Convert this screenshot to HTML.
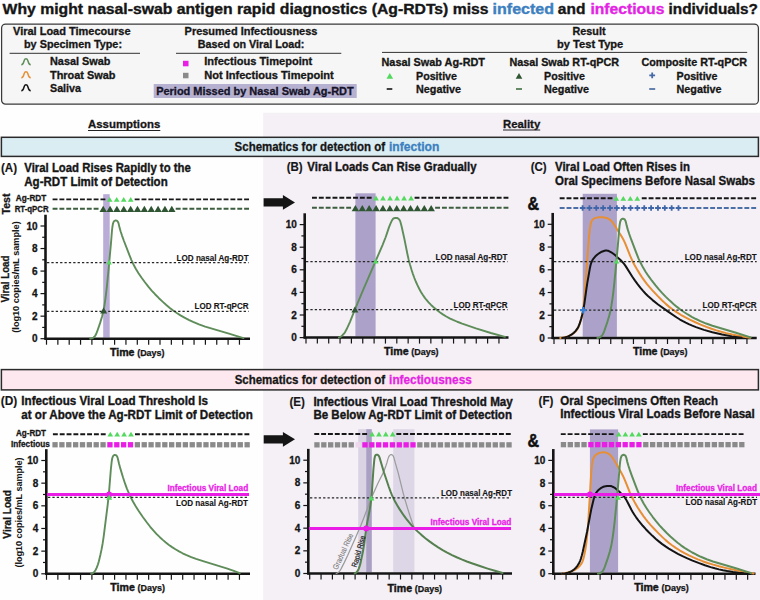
<!DOCTYPE html><html><head><meta charset="utf-8"><style>html,body{margin:0;padding:0;background:#fefefe;width:760px;height:600px;overflow:hidden}</style></head><body><svg width="760" height="600" viewBox="0 0 760 600" style="display:block">
<g font-family='"Liberation Sans", sans-serif'>
<rect width="760" height="600" fill="#fefefe"/>
<rect x="263.2" y="112.8" width="497" height="487.2" fill="#f4f0f6"/>
<text x="2.6" y="13.5" font-size="14.4" font-weight="bold" fill="#161616" stroke="#161616" stroke-width="0.35" textLength="486" lengthAdjust="spacingAndGlyphs">Why might nasal-swab antigen rapid diagnostics (Ag-RDTs) miss</text>
<text x="492.6" y="13.5" font-size="14.4" font-weight="bold" fill="#3d80c0" stroke="#3d80c0" stroke-width="0.35" textLength="61.5" lengthAdjust="spacingAndGlyphs">infected</text>
<text x="557.8" y="13.5" font-size="14.4" font-weight="bold" fill="#161616" stroke="#161616" stroke-width="0.35" textLength="27.6" lengthAdjust="spacingAndGlyphs">and</text>
<text x="590.4" y="13.5" font-size="14.4" font-weight="bold" fill="#e424e4" stroke="#e424e4" stroke-width="0.35" textLength="74" lengthAdjust="spacingAndGlyphs">infectious</text>
<text x="668.6" y="13.5" font-size="14.4" font-weight="bold" fill="#161616" stroke="#161616" stroke-width="0.35" textLength="89.4" lengthAdjust="spacingAndGlyphs">individuals?</text>
<rect x="1.6" y="24" width="756.8" height="80.2" rx="4" fill="#f6f6f6" stroke="#3a3a3a" stroke-width="1.25"/>
<text x="13" y="35.3" font-size="10.4" font-weight="bold" fill="#161616" stroke="#161616" stroke-width="0.3" textLength="117.5" lengthAdjust="spacingAndGlyphs">Viral Load Timecourse</text>
<text x="24" y="48.2" font-size="10.4" font-weight="bold" fill="#161616" stroke="#161616" stroke-width="0.3" textLength="98" lengthAdjust="spacingAndGlyphs">by Specimen Type:</text>
<line x1="9.6" y1="53.3" x2="140" y2="53.3" stroke="#333" stroke-width="1"/>
<path d="M21.3,64.7 C23.1,64.7 23.4,63.7 23.9,61.400000000000006 L24.5,59.800000000000004 C24.9,58.300000000000004 27.1,58.300000000000004 27.5,59.800000000000004 L28.1,61.400000000000006 C28.6,63.7 28.9,64.7 30.7,64.7" fill="none" stroke="#5f8d5a" stroke-width="1.5"/>
<path d="M21.3,77.7 C23.1,77.7 23.4,76.7 23.9,74.4 L24.5,72.80000000000001 C24.9,71.30000000000001 27.1,71.30000000000001 27.5,72.80000000000001 L28.1,74.4 C28.6,76.7 28.9,77.7 30.7,77.7" fill="none" stroke="#e68f35" stroke-width="1.5"/>
<path d="M21.3,90.7 C23.1,90.7 23.4,89.7 23.9,87.4 L24.5,85.80000000000001 C24.9,84.30000000000001 27.1,84.30000000000001 27.5,85.80000000000001 L28.1,87.4 C28.6,89.7 28.9,90.7 30.7,90.7" fill="none" stroke="#141414" stroke-width="1.5"/>
<text x="50" y="65.3" font-size="10.4" font-weight="bold" fill="#161616" stroke="#161616" stroke-width="0.3" textLength="60.5" lengthAdjust="spacingAndGlyphs">Nasal Swab</text>
<text x="50" y="78.5" font-size="10.4" font-weight="bold" fill="#161616" stroke="#161616" stroke-width="0.3" textLength="65.5" lengthAdjust="spacingAndGlyphs">Throat Swab</text>
<text x="50" y="91.5" font-size="10.4" font-weight="bold" fill="#161616" stroke="#161616" stroke-width="0.3" textLength="31" lengthAdjust="spacingAndGlyphs">Saliva</text>
<text x="184.6" y="35.3" font-size="10.4" font-weight="bold" fill="#161616" stroke="#161616" stroke-width="0.3" textLength="132.8" lengthAdjust="spacingAndGlyphs">Presumed Infectiousness</text>
<text x="197.8" y="48.3" font-size="10.4" font-weight="bold" fill="#161616" stroke="#161616" stroke-width="0.3" textLength="106.6" lengthAdjust="spacingAndGlyphs">Based on Viral Load:</text>
<line x1="176" y1="53.3" x2="341.3" y2="53.3" stroke="#333" stroke-width="1"/>
<rect x="183.00" y="60.80" width="5.5" height="5.5" fill="#e91de6"/>
<rect x="183.00" y="72.80" width="5.5" height="5.5" fill="#8a8a8a"/>
<text x="204.2" y="65.3" font-size="10.4" font-weight="bold" fill="#161616" stroke="#161616" stroke-width="0.3" textLength="108" lengthAdjust="spacingAndGlyphs">Infectious Timepoint</text>
<text x="204.2" y="78.7" font-size="10.4" font-weight="bold" fill="#161616" stroke="#161616" stroke-width="0.3" textLength="129.5" lengthAdjust="spacingAndGlyphs">Not Infectious Timepoint</text>
<rect x="153.7" y="84" width="203" height="14" fill="#b6b1d1"/>
<text x="156.2" y="94.5" font-size="10.4" font-weight="bold" fill="#16142a" stroke="#16142a" stroke-width="0.3" textLength="197.5" lengthAdjust="spacingAndGlyphs">Period Missed by Nasal Swab Ag-RDT</text>
<text x="572.5" y="35.3" font-size="10.4" font-weight="bold" fill="#161616" stroke="#161616" stroke-width="0.3" textLength="33" lengthAdjust="spacingAndGlyphs">Result</text>
<text x="557" y="48.4" font-size="10.4" font-weight="bold" fill="#161616" stroke="#161616" stroke-width="0.3" textLength="66.3" lengthAdjust="spacingAndGlyphs">by Test Type</text>
<line x1="382" y1="52.4" x2="747.2" y2="52.4" stroke="#333" stroke-width="1"/>
<text x="381.5" y="66.4" font-size="10.4" font-weight="bold" fill="#161616" stroke="#161616" stroke-width="0.3" textLength="103.5" lengthAdjust="spacingAndGlyphs">Nasal Swab Ag-RDT</text>
<text x="509.4" y="66.4" font-size="10.4" font-weight="bold" fill="#161616" stroke="#161616" stroke-width="0.3" textLength="109.7" lengthAdjust="spacingAndGlyphs">Nasal Swab RT-qPCR</text>
<text x="641.4" y="66.4" font-size="10.4" font-weight="bold" fill="#161616" stroke="#161616" stroke-width="0.3" textLength="105.6" lengthAdjust="spacingAndGlyphs">Composite RT-qPCR</text>
<path d="M386.50,78.70 L393.10,78.70 L389.80,73.10Z" fill="#52d95e"/>
<line x1="386.7" y1="89" x2="392.3" y2="89" stroke="#151515" stroke-width="1.6"/>
<path d="M515.70,78.70 L522.30,78.70 L519.00,73.10Z" fill="#2f5532"/>
<line x1="516" y1="89" x2="522" y2="89" stroke="#3f6e42" stroke-width="1.6"/>
<path d="M649.30,75.30 H655.10 M652.20,72.40 V78.20" stroke="#4568a6" stroke-width="1.8"/>
<line x1="649.2" y1="89" x2="655.2" y2="89" stroke="#5575a8" stroke-width="1.8"/>
<text x="416" y="79.5" font-size="10.4" font-weight="bold" fill="#161616" stroke="#161616" stroke-width="0.3" textLength="41" lengthAdjust="spacingAndGlyphs">Positive</text>
<text x="416" y="92.5" font-size="10.4" font-weight="bold" fill="#161616" stroke="#161616" stroke-width="0.3" textLength="45" lengthAdjust="spacingAndGlyphs">Negative</text>
<text x="544" y="79.5" font-size="10.4" font-weight="bold" fill="#161616" stroke="#161616" stroke-width="0.3" textLength="41" lengthAdjust="spacingAndGlyphs">Positive</text>
<text x="544" y="92.5" font-size="10.4" font-weight="bold" fill="#161616" stroke="#161616" stroke-width="0.3" textLength="45" lengthAdjust="spacingAndGlyphs">Negative</text>
<text x="676.5" y="79.5" font-size="10.4" font-weight="bold" fill="#161616" stroke="#161616" stroke-width="0.3" textLength="41" lengthAdjust="spacingAndGlyphs">Positive</text>
<text x="676.5" y="92.5" font-size="10.4" font-weight="bold" fill="#161616" stroke="#161616" stroke-width="0.3" textLength="45" lengthAdjust="spacingAndGlyphs">Negative</text>
<text x="88" y="128.2" font-size="11" font-weight="bold" fill="#161616" stroke="#161616" stroke-width="0.3" textLength="72.3" lengthAdjust="spacingAndGlyphs">Assumptions</text>
<line x1="88" y1="130.5" x2="160.3" y2="130.5" stroke="#222" stroke-width="1"/>
<text x="503" y="128.1" font-size="11" font-weight="bold" fill="#161616" stroke="#161616" stroke-width="0.3" textLength="37.2" lengthAdjust="spacingAndGlyphs">Reality</text>
<line x1="503" y1="130" x2="540.2" y2="130" stroke="#222" stroke-width="1"/>
<rect x="1.4" y="137.3" width="757" height="19.1" fill="#daedf3" stroke="#2a2a2a" stroke-width="1.5"/>
<text x="234.6" y="151.1" font-size="12.3" font-weight="bold" fill="#161616" stroke="#161616" stroke-width="0.3" textLength="150.5" lengthAdjust="spacingAndGlyphs">Schematics for detection of</text>
<text x="389" y="151.1" font-size="12.3" font-weight="bold" fill="#3d80c0" stroke="#3d80c0" stroke-width="0.3" textLength="50.4" lengthAdjust="spacingAndGlyphs">infection</text>
<rect x="1.4" y="369.6" width="757" height="20.3" fill="#fce8ee" stroke="#2a2a2a" stroke-width="1.5"/>
<text x="234.7" y="384.2" font-size="12.3" font-weight="bold" fill="#161616" stroke="#161616" stroke-width="0.3" textLength="150.5" lengthAdjust="spacingAndGlyphs">Schematics for detection of</text>
<text x="389.1" y="384.2" font-size="12.3" font-weight="bold" fill="#e424e4" stroke="#e424e4" stroke-width="0.3" textLength="82.7" lengthAdjust="spacingAndGlyphs">infectiousness</text>
<text x="1" y="172.0" font-size="11.9" font-weight="bold" fill="#161616" stroke="#161616" stroke-width="0.15" textLength="16.1" lengthAdjust="spacingAndGlyphs">(A)</text>
<text x="24.3" y="172.0" font-size="11.9" font-weight="bold" fill="#161616" stroke="#161616" stroke-width="0.35" textLength="166.5" lengthAdjust="spacingAndGlyphs">Viral Load Rises Rapidly to the</text>
<text x="24.3" y="185.79999999999998" font-size="11.9" font-weight="bold" fill="#161616" stroke="#161616" stroke-width="0.35" textLength="143.4" lengthAdjust="spacingAndGlyphs">Ag-RDT Limit of Detection</text>
<text x="286.7" y="171.2" font-size="11.9" font-weight="bold" fill="#161616" stroke="#161616" stroke-width="0.15" textLength="16" lengthAdjust="spacingAndGlyphs">(B)</text>
<text x="307.3" y="171.2" font-size="11.9" font-weight="bold" fill="#161616" stroke="#161616" stroke-width="0.35" textLength="169.2" lengthAdjust="spacingAndGlyphs">Viral Loads Can Rise Gradually</text>
<text x="530.7" y="171.2" font-size="11.9" font-weight="bold" fill="#161616" stroke="#161616" stroke-width="0.15" textLength="16" lengthAdjust="spacingAndGlyphs">(C)</text>
<text x="555" y="171.2" font-size="11.9" font-weight="bold" fill="#161616" stroke="#161616" stroke-width="0.35" textLength="135" lengthAdjust="spacingAndGlyphs">Viral Load Often Rises in</text>
<text x="555" y="184.5" font-size="11.9" font-weight="bold" fill="#161616" stroke="#161616" stroke-width="0.35" textLength="200" lengthAdjust="spacingAndGlyphs">Oral Specimens Before Nasal Swabs</text>
<text x="0.7" y="404.9" font-size="11.9" font-weight="bold" fill="#161616" stroke="#161616" stroke-width="0.15" textLength="16.5" lengthAdjust="spacingAndGlyphs">(D)</text>
<text x="21.3" y="404.9" font-size="11.9" font-weight="bold" fill="#161616" stroke="#161616" stroke-width="0.35" textLength="186.7" lengthAdjust="spacingAndGlyphs">Infectious Viral Load Threshold Is</text>
<text x="21.3" y="418.59999999999997" font-size="11.9" font-weight="bold" fill="#161616" stroke="#161616" stroke-width="0.35" textLength="231.5" lengthAdjust="spacingAndGlyphs">at or Above the Ag-RDT Limit of Detection</text>
<text x="289.5" y="405.7" font-size="11.9" font-weight="bold" fill="#161616" stroke="#161616" stroke-width="0.15" textLength="15.5" lengthAdjust="spacingAndGlyphs">(E)</text>
<text x="313.4" y="405.7" font-size="11.9" font-weight="bold" fill="#161616" stroke="#161616" stroke-width="0.35" textLength="199.4" lengthAdjust="spacingAndGlyphs">Infectious Viral Load Threshold May</text>
<text x="313.4" y="418.59999999999997" font-size="11.9" font-weight="bold" fill="#161616" stroke="#161616" stroke-width="0.35" textLength="198.6" lengthAdjust="spacingAndGlyphs">Be Below Ag-RDT Limit of Detection</text>
<text x="538.6" y="404.8" font-size="11.9" font-weight="bold" fill="#161616" stroke="#161616" stroke-width="0.15" textLength="14.8" lengthAdjust="spacingAndGlyphs">(F)</text>
<text x="560.3" y="404.8" font-size="11.9" font-weight="bold" fill="#161616" stroke="#161616" stroke-width="0.35" textLength="157.7" lengthAdjust="spacingAndGlyphs">Oral Specimens Often Reach</text>
<text x="560.3" y="418.2" font-size="11.9" font-weight="bold" fill="#161616" stroke="#161616" stroke-width="0.35" textLength="194.5" lengthAdjust="spacingAndGlyphs">Infectious Viral Loads Before Nasal</text>
<rect x="103.2" y="194.2" width="6.5" height="143.30" fill="#b9acd6"/>
<text x="176.6" y="260.5" font-size="8.2" font-weight="bold" fill="#161616" stroke="#161616" stroke-width="0.12" textLength="72" lengthAdjust="spacingAndGlyphs">LOD nasal Ag-RDT</text>
<text x="194.6" y="309.2" font-size="8.2" font-weight="bold" fill="#161616" stroke="#161616" stroke-width="0.12" textLength="54" lengthAdjust="spacingAndGlyphs">LOD RT-qPCR</text>
<line x1="45.5" y1="214.73" x2="45.5" y2="339.7" stroke="#151515" stroke-width="2.6"/>
<line x1="44.5" y1="338.7" x2="250" y2="338.7" stroke="#151515" stroke-width="2.5"/>
<line x1="40.5" y1="338.70" x2="45.5" y2="338.70" stroke="#151515" stroke-width="1.2"/>
<text x="37.6" y="342.20" font-size="10" font-weight="bold" fill="#151515" stroke="#151515" stroke-width="0.3" text-anchor="end">0</text>
<line x1="42.2" y1="327.43" x2="45.5" y2="327.43" stroke="#151515" stroke-width="1.2"/>
<line x1="40.5" y1="316.16" x2="45.5" y2="316.16" stroke="#151515" stroke-width="1.2"/>
<text x="37.6" y="319.66" font-size="10" font-weight="bold" fill="#151515" stroke="#151515" stroke-width="0.3" text-anchor="end">2</text>
<line x1="42.2" y1="304.89" x2="45.5" y2="304.89" stroke="#151515" stroke-width="1.2"/>
<line x1="40.5" y1="293.62" x2="45.5" y2="293.62" stroke="#151515" stroke-width="1.2"/>
<text x="37.6" y="297.12" font-size="10" font-weight="bold" fill="#151515" stroke="#151515" stroke-width="0.3" text-anchor="end">4</text>
<line x1="42.2" y1="282.35" x2="45.5" y2="282.35" stroke="#151515" stroke-width="1.2"/>
<line x1="40.5" y1="271.08" x2="45.5" y2="271.08" stroke="#151515" stroke-width="1.2"/>
<text x="37.6" y="274.58" font-size="10" font-weight="bold" fill="#151515" stroke="#151515" stroke-width="0.3" text-anchor="end">6</text>
<line x1="42.2" y1="259.81" x2="45.5" y2="259.81" stroke="#151515" stroke-width="1.2"/>
<line x1="40.5" y1="248.54" x2="45.5" y2="248.54" stroke="#151515" stroke-width="1.2"/>
<text x="37.6" y="252.04" font-size="10" font-weight="bold" fill="#151515" stroke="#151515" stroke-width="0.3" text-anchor="end">8</text>
<line x1="42.2" y1="237.27" x2="45.5" y2="237.27" stroke="#151515" stroke-width="1.2"/>
<line x1="40.5" y1="226.00" x2="45.5" y2="226.00" stroke="#151515" stroke-width="1.2"/>
<text x="37.6" y="229.50" font-size="10" font-weight="bold" fill="#151515" stroke="#151515" stroke-width="0.3" text-anchor="end">10</text>
<line x1="46.50" y1="338.7" x2="46.50" y2="344.7" stroke="#151515" stroke-width="1.2"/>
<line x1="57.85" y1="338.7" x2="57.85" y2="344.7" stroke="#151515" stroke-width="1.2"/>
<line x1="69.20" y1="338.7" x2="69.20" y2="344.7" stroke="#151515" stroke-width="1.2"/>
<line x1="80.55" y1="338.7" x2="80.55" y2="344.7" stroke="#151515" stroke-width="1.2"/>
<line x1="91.90" y1="338.7" x2="91.90" y2="344.7" stroke="#151515" stroke-width="1.2"/>
<line x1="103.25" y1="338.7" x2="103.25" y2="344.7" stroke="#151515" stroke-width="1.2"/>
<line x1="114.60" y1="338.7" x2="114.60" y2="344.7" stroke="#151515" stroke-width="1.2"/>
<line x1="125.95" y1="338.7" x2="125.95" y2="344.7" stroke="#151515" stroke-width="1.2"/>
<line x1="137.30" y1="338.7" x2="137.30" y2="344.7" stroke="#151515" stroke-width="1.2"/>
<line x1="148.65" y1="338.7" x2="148.65" y2="344.7" stroke="#151515" stroke-width="1.2"/>
<line x1="160.00" y1="338.7" x2="160.00" y2="344.7" stroke="#151515" stroke-width="1.2"/>
<line x1="171.35" y1="338.7" x2="171.35" y2="344.7" stroke="#151515" stroke-width="1.2"/>
<line x1="182.70" y1="338.7" x2="182.70" y2="344.7" stroke="#151515" stroke-width="1.2"/>
<line x1="194.05" y1="338.7" x2="194.05" y2="344.7" stroke="#151515" stroke-width="1.2"/>
<line x1="205.40" y1="338.7" x2="205.40" y2="344.7" stroke="#151515" stroke-width="1.2"/>
<line x1="216.75" y1="338.7" x2="216.75" y2="344.7" stroke="#151515" stroke-width="1.2"/>
<line x1="228.10" y1="338.7" x2="228.10" y2="344.7" stroke="#151515" stroke-width="1.2"/>
<line x1="239.45" y1="338.7" x2="239.45" y2="344.7" stroke="#151515" stroke-width="1.2"/>
<text x="15.8" y="201.4" font-size="8.8" font-weight="bold" fill="#161616" stroke="#161616" stroke-width="0.3" textLength="30.5" lengthAdjust="spacingAndGlyphs">Ag-RDT</text>
<text x="14.7" y="212" font-size="8.8" font-weight="bold" fill="#161616" stroke="#161616" stroke-width="0.3" textLength="34" lengthAdjust="spacingAndGlyphs">RT-qPCR</text>
<text x="9.5" y="204" font-size="10.5" font-weight="bold" fill="#161616" stroke="#161616" stroke-width="0.3" text-anchor="middle" textLength="21" lengthAdjust="spacingAndGlyphs" transform="rotate(-90 9.5 204)">Test</text>
<line x1="52.60" y1="199.4" x2="106.50" y2="199.4" stroke="#161616" stroke-width="1.9" stroke-dasharray="4.9 1.94" stroke-dashoffset="0.00"/>
<line x1="134.20" y1="199.4" x2="250.00" y2="199.4" stroke="#161616" stroke-width="1.9" stroke-dasharray="4.9 1.94" stroke-dashoffset="6.36"/>
<line x1="52.60" y1="208.7" x2="100.00" y2="208.7" stroke="#3d5e3f" stroke-width="1.9" stroke-dasharray="4.9 1.94" stroke-dashoffset="0.00"/>
<line x1="175.20" y1="208.7" x2="250.00" y2="208.7" stroke="#3d5e3f" stroke-width="1.9" stroke-dasharray="4.9 1.94" stroke-dashoffset="6.32"/>
<path d="M106.85,201.80 L112.55,201.80 L109.70,196.90Z" fill="#52d95e"/>
<path d="M113.85,201.80 L119.55,201.80 L116.70,196.90Z" fill="#52d95e"/>
<path d="M120.85,201.80 L126.55,201.80 L123.70,196.90Z" fill="#52d95e"/>
<path d="M127.85,201.80 L133.55,201.80 L130.70,196.90Z" fill="#52d95e"/>
<path d="M99.50,212.10 L106.90,212.10 L103.20,205.80Z" fill="#2f5532"/>
<path d="M106.36,212.10 L113.76,212.10 L110.06,205.80Z" fill="#2f5532"/>
<path d="M113.22,212.10 L120.62,212.10 L116.92,205.80Z" fill="#2f5532"/>
<path d="M120.08,212.10 L127.48,212.10 L123.78,205.80Z" fill="#2f5532"/>
<path d="M126.94,212.10 L134.34,212.10 L130.64,205.80Z" fill="#2f5532"/>
<path d="M133.80,212.10 L141.20,212.10 L137.50,205.80Z" fill="#2f5532"/>
<path d="M140.66,212.10 L148.06,212.10 L144.36,205.80Z" fill="#2f5532"/>
<path d="M147.52,212.10 L154.92,212.10 L151.22,205.80Z" fill="#2f5532"/>
<path d="M154.38,212.10 L161.78,212.10 L158.08,205.80Z" fill="#2f5532"/>
<path d="M161.24,212.10 L168.64,212.10 L164.94,205.80Z" fill="#2f5532"/>
<path d="M168.10,212.10 L175.50,212.10 L171.80,205.80Z" fill="#2f5532"/>
<text x="9.4" y="279" font-size="10.4" font-weight="bold" fill="#161616" stroke="#161616" stroke-width="0.3" text-anchor="middle" textLength="47" lengthAdjust="spacingAndGlyphs" transform="rotate(-90 9.4 279)">Viral Load</text>
<text x="19.3" y="277" font-size="9.4" font-weight="bold" fill="#161616" stroke="#161616" stroke-width="0.05" text-anchor="middle" textLength="111.4" lengthAdjust="spacingAndGlyphs" transform="rotate(-90 19.3 277)">(log10 copies/mL sample)</text>
<text x="109.9" y="355.5" font-size="10.6" font-weight="bold" fill="#151515" stroke="#151515" stroke-width="0.4" textLength="24.6" lengthAdjust="spacingAndGlyphs">Time</text>
<text x="137.2" y="355.5" font-size="8.2" font-weight="bold" fill="#151515" stroke="#151515" stroke-width="0.25" textLength="27.3" lengthAdjust="spacingAndGlyphs">(Days)</text>
<path d="M90.20,338.68 L91.75,338.32 L92.85,337.85 L93.53,337.45 L94.29,336.80 L94.95,336.05 L96.02,334.37 L96.99,331.96 L100.14,322.89 L102.15,316.18 L103.30,311.53 L104.20,306.81 L105.20,300.29 L106.01,294.14 L106.92,286.19 L108.37,271.67 L110.96,243.38 L111.95,231.02 L112.36,227.25 L112.92,223.90 L113.57,222.01 L113.99,221.35 L114.59,220.84 L115.30,220.51 L115.87,220.44 L116.62,220.62 L117.29,221.04 L117.80,221.62 L118.24,222.51 L118.63,223.65 L119.46,227.35 L120.57,231.20 L122.01,235.57 L123.97,241.03 L129.43,255.21 L131.33,259.83 L133.35,264.18 L135.91,268.94 L138.51,273.20 L141.43,277.50 L144.74,282.01 L148.33,286.56 L151.68,290.53 L155.04,294.23 L158.68,297.94 L162.59,301.66 L166.31,304.99 L169.84,307.93 L173.18,310.48 L176.78,312.99 L180.50,315.34 L184.48,317.63 L188.73,319.84 L193.07,321.90 L198.97,324.36 L205.19,326.55 L228.95,333.63 L243.44,338.11" fill="none" stroke="#5f8d5a" stroke-width="1.9" stroke-linejoin="round" stroke-linecap="round" />

<line x1="47" y1="262.7" x2="248.6" y2="262.7" stroke="#262626" stroke-width="1.3" stroke-dasharray="2.3 2.07"/>
<line x1="47" y1="311.3" x2="248.6" y2="311.3" stroke="#262626" stroke-width="1.3" stroke-dasharray="2.3 2.07"/>
<path d="M100.10,313.60 L107.10,313.60 L103.60,307.60Z" fill="#2f5532"/>
<path d="M106.40,264.50 L111.80,264.50 L109.10,259.70Z" fill="#52d95e"/>
<rect x="355.4" y="193.3" width="20.2" height="143.10" fill="#aca2c9"/>
<text x="435.5" y="259.5" font-size="8.2" font-weight="bold" fill="#161616" stroke="#161616" stroke-width="0.12" textLength="72" lengthAdjust="spacingAndGlyphs">LOD nasal Ag-RDT</text>
<text x="453.5" y="308.2" font-size="8.2" font-weight="bold" fill="#161616" stroke="#161616" stroke-width="0.12" textLength="54" lengthAdjust="spacingAndGlyphs">LOD RT-qPCR</text>
<line x1="304.7" y1="213.3" x2="304.7" y2="338.6" stroke="#151515" stroke-width="2.6"/>
<line x1="303.7" y1="337.6" x2="508.5" y2="337.6" stroke="#151515" stroke-width="2.5"/>
<line x1="299.7" y1="337.60" x2="304.7" y2="337.60" stroke="#151515" stroke-width="1.2"/>
<text x="296.8" y="341.10" font-size="10" font-weight="bold" fill="#151515" stroke="#151515" stroke-width="0.3" text-anchor="end">0</text>
<line x1="301.4" y1="326.30" x2="304.7" y2="326.30" stroke="#151515" stroke-width="1.2"/>
<line x1="299.7" y1="315.00" x2="304.7" y2="315.00" stroke="#151515" stroke-width="1.2"/>
<text x="296.8" y="318.50" font-size="10" font-weight="bold" fill="#151515" stroke="#151515" stroke-width="0.3" text-anchor="end">2</text>
<line x1="301.4" y1="303.70" x2="304.7" y2="303.70" stroke="#151515" stroke-width="1.2"/>
<line x1="299.7" y1="292.40" x2="304.7" y2="292.40" stroke="#151515" stroke-width="1.2"/>
<text x="296.8" y="295.90" font-size="10" font-weight="bold" fill="#151515" stroke="#151515" stroke-width="0.3" text-anchor="end">4</text>
<line x1="301.4" y1="281.10" x2="304.7" y2="281.10" stroke="#151515" stroke-width="1.2"/>
<line x1="299.7" y1="269.80" x2="304.7" y2="269.80" stroke="#151515" stroke-width="1.2"/>
<text x="296.8" y="273.30" font-size="10" font-weight="bold" fill="#151515" stroke="#151515" stroke-width="0.3" text-anchor="end">6</text>
<line x1="301.4" y1="258.50" x2="304.7" y2="258.50" stroke="#151515" stroke-width="1.2"/>
<line x1="299.7" y1="247.20" x2="304.7" y2="247.20" stroke="#151515" stroke-width="1.2"/>
<text x="296.8" y="250.70" font-size="10" font-weight="bold" fill="#151515" stroke="#151515" stroke-width="0.3" text-anchor="end">8</text>
<line x1="301.4" y1="235.90" x2="304.7" y2="235.90" stroke="#151515" stroke-width="1.2"/>
<line x1="299.7" y1="224.60" x2="304.7" y2="224.60" stroke="#151515" stroke-width="1.2"/>
<text x="296.8" y="228.10" font-size="10" font-weight="bold" fill="#151515" stroke="#151515" stroke-width="0.3" text-anchor="end">10</text>
<line x1="306.00" y1="337.6" x2="306.00" y2="343.6" stroke="#151515" stroke-width="1.2"/>
<line x1="317.35" y1="337.6" x2="317.35" y2="343.6" stroke="#151515" stroke-width="1.2"/>
<line x1="328.70" y1="337.6" x2="328.70" y2="343.6" stroke="#151515" stroke-width="1.2"/>
<line x1="340.05" y1="337.6" x2="340.05" y2="343.6" stroke="#151515" stroke-width="1.2"/>
<line x1="351.40" y1="337.6" x2="351.40" y2="343.6" stroke="#151515" stroke-width="1.2"/>
<line x1="362.75" y1="337.6" x2="362.75" y2="343.6" stroke="#151515" stroke-width="1.2"/>
<line x1="374.10" y1="337.6" x2="374.10" y2="343.6" stroke="#151515" stroke-width="1.2"/>
<line x1="385.45" y1="337.6" x2="385.45" y2="343.6" stroke="#151515" stroke-width="1.2"/>
<line x1="396.80" y1="337.6" x2="396.80" y2="343.6" stroke="#151515" stroke-width="1.2"/>
<line x1="408.15" y1="337.6" x2="408.15" y2="343.6" stroke="#151515" stroke-width="1.2"/>
<line x1="419.50" y1="337.6" x2="419.50" y2="343.6" stroke="#151515" stroke-width="1.2"/>
<line x1="430.85" y1="337.6" x2="430.85" y2="343.6" stroke="#151515" stroke-width="1.2"/>
<line x1="442.20" y1="337.6" x2="442.20" y2="343.6" stroke="#151515" stroke-width="1.2"/>
<line x1="453.55" y1="337.6" x2="453.55" y2="343.6" stroke="#151515" stroke-width="1.2"/>
<line x1="464.90" y1="337.6" x2="464.90" y2="343.6" stroke="#151515" stroke-width="1.2"/>
<line x1="476.25" y1="337.6" x2="476.25" y2="343.6" stroke="#151515" stroke-width="1.2"/>
<line x1="487.60" y1="337.6" x2="487.60" y2="343.6" stroke="#151515" stroke-width="1.2"/>
<line x1="498.95" y1="337.6" x2="498.95" y2="343.6" stroke="#151515" stroke-width="1.2"/>
<path d="M263.6,198.3 H282.9 V195.0 L295,202.4 L282.9,209.8 V206.5 H263.6Z" fill="#151515"/>
<line x1="312.00" y1="197.8" x2="372.60" y2="197.8" stroke="#161616" stroke-width="1.9" stroke-dasharray="4.9 1.94" stroke-dashoffset="0.00"/>
<line x1="414.40" y1="197.8" x2="509.30" y2="197.8" stroke="#161616" stroke-width="1.9" stroke-dasharray="4.9 1.94" stroke-dashoffset="6.64"/>
<line x1="312.00" y1="207.8" x2="352.00" y2="207.8" stroke="#3d5e3f" stroke-width="1.9" stroke-dasharray="4.9 1.94" stroke-dashoffset="0.00"/>
<line x1="434.60" y1="207.8" x2="509.30" y2="207.8" stroke="#3d5e3f" stroke-width="1.9" stroke-dasharray="4.9 1.94" stroke-dashoffset="6.32"/>
<path d="M373.15,200.40 L378.85,200.40 L376.00,195.50Z" fill="#52d95e"/>
<path d="M380.17,200.40 L385.87,200.40 L383.02,195.50Z" fill="#52d95e"/>
<path d="M387.19,200.40 L392.89,200.40 L390.04,195.50Z" fill="#52d95e"/>
<path d="M394.21,200.40 L399.91,200.40 L397.06,195.50Z" fill="#52d95e"/>
<path d="M401.23,200.40 L406.93,200.40 L404.08,195.50Z" fill="#52d95e"/>
<path d="M408.25,200.40 L413.95,200.40 L411.10,195.50Z" fill="#52d95e"/>
<path d="M351.70,211.20 L359.10,211.20 L355.40,204.90Z" fill="#2f5532"/>
<path d="M358.59,211.20 L365.99,211.20 L362.29,204.90Z" fill="#2f5532"/>
<path d="M365.48,211.20 L372.88,211.20 L369.18,204.90Z" fill="#2f5532"/>
<path d="M372.37,211.20 L379.77,211.20 L376.07,204.90Z" fill="#2f5532"/>
<path d="M379.26,211.20 L386.66,211.20 L382.96,204.90Z" fill="#2f5532"/>
<path d="M386.15,211.20 L393.55,211.20 L389.85,204.90Z" fill="#2f5532"/>
<path d="M393.04,211.20 L400.44,211.20 L396.74,204.90Z" fill="#2f5532"/>
<path d="M399.93,211.20 L407.33,211.20 L403.63,204.90Z" fill="#2f5532"/>
<path d="M406.82,211.20 L414.22,211.20 L410.52,204.90Z" fill="#2f5532"/>
<path d="M413.71,211.20 L421.11,211.20 L417.41,204.90Z" fill="#2f5532"/>
<path d="M420.60,211.20 L428.00,211.20 L424.30,204.90Z" fill="#2f5532"/>
<path d="M427.49,211.20 L434.89,211.20 L431.19,204.90Z" fill="#2f5532"/>
<text x="384.0" y="354.90000000000003" font-size="10.6" font-weight="bold" fill="#151515" stroke="#151515" stroke-width="0.4" textLength="24.6" lengthAdjust="spacingAndGlyphs">Time</text>
<text x="411.3" y="354.90000000000003" font-size="8.2" font-weight="bold" fill="#151515" stroke="#151515" stroke-width="0.25" textLength="27.3" lengthAdjust="spacingAndGlyphs">(Days)</text>
<path d="M338.89,337.56 L340.01,337.14 L341.02,336.50 L342.24,335.46 L343.64,334.03 L344.98,332.30 L346.58,329.30 L349.91,322.03 L354.78,309.97 L363.59,288.94 L382.54,245.06 L385.64,237.25 L388.87,227.58 L390.24,224.04 L391.94,220.42 L392.90,218.91 L393.35,218.54 L394.07,218.22 L395.23,217.95 L396.22,217.85 L397.00,217.94 L397.55,218.16 L398.38,218.70 L399.12,219.37 L399.89,220.52 L400.57,222.39 L401.57,226.27 L404.35,238.76 L407.45,254.25 L408.71,259.91 L409.97,264.55 L411.52,269.72 L412.95,274.09 L414.39,278.03 L415.89,281.74 L417.45,285.20 L419.22,288.79 L420.95,291.94 L422.73,294.82 L424.67,297.60 L426.49,299.97 L428.57,302.39 L431.07,304.96 L433.85,307.54 L436.92,310.09 L440.11,312.49 L443.24,314.63 L446.31,316.50 L449.64,318.30 L453.06,319.94 L457.28,321.75 L462.14,323.60 L475.96,328.30 L490.84,332.97 L504.89,336.88" fill="none" stroke="#5f8d5a" stroke-width="1.9" stroke-linejoin="round" stroke-linecap="round" />

<line x1="306" y1="261.6" x2="507.5" y2="261.6" stroke="#262626" stroke-width="1.3" stroke-dasharray="2.3 2.07"/>
<line x1="306" y1="309.7" x2="507.5" y2="309.7" stroke="#262626" stroke-width="1.3" stroke-dasharray="2.3 2.07"/>
<path d="M351.40,312.60 L358.40,312.60 L354.90,306.60Z" fill="#2f5532"/>
<path d="M373.10,263.40 L378.50,263.40 L375.80,258.60Z" fill="#52d95e"/>
<rect x="582.7" y="193.8" width="34.2" height="143.00" fill="#aca2c9"/>
<text x="684.7" y="259.7" font-size="8.2" font-weight="bold" fill="#161616" stroke="#161616" stroke-width="0.12" textLength="72" lengthAdjust="spacingAndGlyphs">LOD nasal Ag-RDT</text>
<text x="702.5" y="308.3" font-size="8.2" font-weight="bold" fill="#161616" stroke="#161616" stroke-width="0.12" textLength="54" lengthAdjust="spacingAndGlyphs">LOD RT-qPCR</text>
<line x1="552.7" y1="212.93" x2="552.7" y2="339" stroke="#151515" stroke-width="2.6"/>
<line x1="551.7" y1="338" x2="756.7" y2="338" stroke="#151515" stroke-width="2.5"/>
<line x1="547.7" y1="338.00" x2="552.7" y2="338.00" stroke="#151515" stroke-width="1.2"/>
<text x="544.8" y="341.50" font-size="10" font-weight="bold" fill="#151515" stroke="#151515" stroke-width="0.3" text-anchor="end">0</text>
<line x1="549.4000000000001" y1="326.63" x2="552.7" y2="326.63" stroke="#151515" stroke-width="1.2"/>
<line x1="547.7" y1="315.26" x2="552.7" y2="315.26" stroke="#151515" stroke-width="1.2"/>
<text x="544.8" y="318.76" font-size="10" font-weight="bold" fill="#151515" stroke="#151515" stroke-width="0.3" text-anchor="end">2</text>
<line x1="549.4000000000001" y1="303.89" x2="552.7" y2="303.89" stroke="#151515" stroke-width="1.2"/>
<line x1="547.7" y1="292.52" x2="552.7" y2="292.52" stroke="#151515" stroke-width="1.2"/>
<text x="544.8" y="296.02" font-size="10" font-weight="bold" fill="#151515" stroke="#151515" stroke-width="0.3" text-anchor="end">4</text>
<line x1="549.4000000000001" y1="281.15" x2="552.7" y2="281.15" stroke="#151515" stroke-width="1.2"/>
<line x1="547.7" y1="269.78" x2="552.7" y2="269.78" stroke="#151515" stroke-width="1.2"/>
<text x="544.8" y="273.28" font-size="10" font-weight="bold" fill="#151515" stroke="#151515" stroke-width="0.3" text-anchor="end">6</text>
<line x1="549.4000000000001" y1="258.41" x2="552.7" y2="258.41" stroke="#151515" stroke-width="1.2"/>
<line x1="547.7" y1="247.04" x2="552.7" y2="247.04" stroke="#151515" stroke-width="1.2"/>
<text x="544.8" y="250.54" font-size="10" font-weight="bold" fill="#151515" stroke="#151515" stroke-width="0.3" text-anchor="end">8</text>
<line x1="549.4000000000001" y1="235.67" x2="552.7" y2="235.67" stroke="#151515" stroke-width="1.2"/>
<line x1="547.7" y1="224.30" x2="552.7" y2="224.30" stroke="#151515" stroke-width="1.2"/>
<text x="544.8" y="227.80" font-size="10" font-weight="bold" fill="#151515" stroke="#151515" stroke-width="0.3" text-anchor="end">10</text>
<line x1="554.00" y1="338" x2="554.00" y2="344" stroke="#151515" stroke-width="1.2"/>
<line x1="565.35" y1="338" x2="565.35" y2="344" stroke="#151515" stroke-width="1.2"/>
<line x1="576.70" y1="338" x2="576.70" y2="344" stroke="#151515" stroke-width="1.2"/>
<line x1="588.05" y1="338" x2="588.05" y2="344" stroke="#151515" stroke-width="1.2"/>
<line x1="599.40" y1="338" x2="599.40" y2="344" stroke="#151515" stroke-width="1.2"/>
<line x1="610.75" y1="338" x2="610.75" y2="344" stroke="#151515" stroke-width="1.2"/>
<line x1="622.10" y1="338" x2="622.10" y2="344" stroke="#151515" stroke-width="1.2"/>
<line x1="633.45" y1="338" x2="633.45" y2="344" stroke="#151515" stroke-width="1.2"/>
<line x1="644.80" y1="338" x2="644.80" y2="344" stroke="#151515" stroke-width="1.2"/>
<line x1="656.15" y1="338" x2="656.15" y2="344" stroke="#151515" stroke-width="1.2"/>
<line x1="667.50" y1="338" x2="667.50" y2="344" stroke="#151515" stroke-width="1.2"/>
<line x1="678.85" y1="338" x2="678.85" y2="344" stroke="#151515" stroke-width="1.2"/>
<line x1="690.20" y1="338" x2="690.20" y2="344" stroke="#151515" stroke-width="1.2"/>
<line x1="701.55" y1="338" x2="701.55" y2="344" stroke="#151515" stroke-width="1.2"/>
<line x1="712.90" y1="338" x2="712.90" y2="344" stroke="#151515" stroke-width="1.2"/>
<line x1="724.25" y1="338" x2="724.25" y2="344" stroke="#151515" stroke-width="1.2"/>
<line x1="735.60" y1="338" x2="735.60" y2="344" stroke="#151515" stroke-width="1.2"/>
<line x1="746.95" y1="338" x2="746.95" y2="344" stroke="#151515" stroke-width="1.2"/>
<text x="527.6" y="209.5" font-size="17.5" font-weight="bold" fill="#111" stroke="#111" stroke-width="0.5" textLength="11.6" lengthAdjust="spacingAndGlyphs">&amp;</text>
<line x1="559.70" y1="198.3" x2="613.20" y2="198.3" stroke="#161616" stroke-width="1.9" stroke-dasharray="4.9 1.94" stroke-dashoffset="0.00"/>
<line x1="641.00" y1="198.3" x2="757.00" y2="198.3" stroke="#161616" stroke-width="1.9" stroke-dasharray="4.9 1.94" stroke-dashoffset="6.06"/>
<line x1="559.70" y1="208" x2="757.00" y2="208" stroke="#4b6fa6" stroke-width="1.9" stroke-dasharray="4.9 1.94" stroke-dashoffset="0.00"/>
<path d="M613.45,200.80 L619.15,200.80 L616.30,195.90Z" fill="#52d95e"/>
<path d="M620.45,200.80 L626.15,200.80 L623.30,195.90Z" fill="#52d95e"/>
<path d="M627.45,200.80 L633.15,200.80 L630.30,195.90Z" fill="#52d95e"/>
<path d="M634.45,200.80 L640.15,200.80 L637.30,195.90Z" fill="#52d95e"/>
<path d="M579.80,208.00 H585.40 M582.60,205.20 V210.80" stroke="#3f66a8" stroke-width="1.8"/>
<path d="M586.65,208.00 H592.25 M589.45,205.20 V210.80" stroke="#3f66a8" stroke-width="1.8"/>
<path d="M593.50,208.00 H599.10 M596.30,205.20 V210.80" stroke="#3f66a8" stroke-width="1.8"/>
<path d="M600.35,208.00 H605.95 M603.15,205.20 V210.80" stroke="#3f66a8" stroke-width="1.8"/>
<path d="M607.20,208.00 H612.80 M610.00,205.20 V210.80" stroke="#3f66a8" stroke-width="1.8"/>
<path d="M614.05,208.00 H619.65 M616.85,205.20 V210.80" stroke="#3f66a8" stroke-width="1.8"/>
<path d="M620.90,208.00 H626.50 M623.70,205.20 V210.80" stroke="#3f66a8" stroke-width="1.8"/>
<path d="M627.75,208.00 H633.35 M630.55,205.20 V210.80" stroke="#3f66a8" stroke-width="1.8"/>
<path d="M634.60,208.00 H640.20 M637.40,205.20 V210.80" stroke="#3f66a8" stroke-width="1.8"/>
<path d="M641.45,208.00 H647.05 M644.25,205.20 V210.80" stroke="#3f66a8" stroke-width="1.8"/>
<path d="M648.30,208.00 H653.90 M651.10,205.20 V210.80" stroke="#3f66a8" stroke-width="1.8"/>
<path d="M655.15,208.00 H660.75 M657.95,205.20 V210.80" stroke="#3f66a8" stroke-width="1.8"/>
<path d="M662.00,208.00 H667.60 M664.80,205.20 V210.80" stroke="#3f66a8" stroke-width="1.8"/>
<path d="M668.85,208.00 H674.45 M671.65,205.20 V210.80" stroke="#3f66a8" stroke-width="1.8"/>
<path d="M675.70,208.00 H681.30 M678.50,205.20 V210.80" stroke="#3f66a8" stroke-width="1.8"/>
<text x="632.9000000000001" y="354.90000000000003" font-size="10.6" font-weight="bold" fill="#151515" stroke="#151515" stroke-width="0.4" textLength="24.6" lengthAdjust="spacingAndGlyphs">Time</text>
<text x="660.2" y="354.90000000000003" font-size="8.2" font-weight="bold" fill="#151515" stroke="#151515" stroke-width="0.25" textLength="27.3" lengthAdjust="spacingAndGlyphs">(Days)</text>
<path d="M560.20,337.99 L561.79,337.83 L563.56,337.51 L567.81,336.37 L570.55,335.17 L573.26,333.48 L574.35,332.60 L575.49,331.48 L576.52,330.26 L577.45,328.96 L578.58,326.84 L579.85,323.48 L581.21,319.08 L582.14,315.40 L582.99,310.88 L583.56,306.72 L585.39,285.19 L588.75,239.52 L589.77,229.57 L590.66,224.04 L591.07,222.29 L591.52,221.19 L592.56,219.73 L593.74,218.66 L594.81,218.13 L596.74,217.63 L598.91,217.27 L601.10,217.15 L602.90,217.26 L605.26,217.66 L606.61,218.01 L608.10,218.61 L609.50,219.38 L610.46,220.09 L611.60,221.21 L613.02,222.89 L614.04,224.37 L616.72,228.83 L620.88,235.19 L623.09,238.99 L624.16,241.14 L625.39,243.88 L630.29,256.13 L632.65,261.42 L634.50,264.97 L636.67,268.79 L639.16,272.89 L641.88,277.09 L644.39,280.69 L646.80,283.88 L649.34,286.96 L652.39,290.40 L657.34,295.63 L662.13,300.45 L665.76,303.88 L669.25,306.87 L672.73,309.54 L676.52,312.13 L680.77,314.76 L685.47,317.41 L690.27,319.88 L695.33,322.27 L700.65,324.57 L706.41,326.86 L711.48,328.72 L716.41,330.37 L721.20,331.80 L726.22,333.12 L732.26,334.54 L738.32,335.80 L744.11,336.84 L750.09,337.75" fill="none" stroke="#e68f35" stroke-width="2" stroke-linejoin="round" stroke-linecap="round" />
<path d="M562.20,337.98 L564.75,337.51 L567.62,336.64 L569.62,335.72 L571.84,334.37 L573.86,332.74 L575.67,330.88 L577.13,328.97 L578.44,326.73 L579.57,323.96 L581.11,318.99 L582.29,314.55 L583.33,309.86 L584.39,303.55 L586.49,288.29 L587.36,282.56 L589.81,268.57 L590.58,265.06 L591.27,262.76 L592.25,260.57 L593.51,258.53 L595.17,256.54 L597.09,254.78 L599.83,252.78 L601.73,251.68 L604.58,250.74 L605.56,250.55 L606.55,250.48 L607.73,250.64 L608.85,251.06 L611.34,252.35 L612.67,253.22 L614.39,254.59 L618.45,258.15 L620.49,260.07 L622.31,261.93 L624.25,264.21 L625.68,266.14 L632.17,276.45 L635.00,280.57 L637.59,284.12 L640.29,287.59 L642.85,290.66 L645.41,293.46 L647.95,296.00 L652.57,300.12 L658.07,304.44 L668.15,311.65 L676.75,317.50 L679.97,319.52 L682.90,321.21 L685.73,322.70 L688.79,324.17 L692.28,325.67 L696.00,327.12 L703.94,329.85 L712.40,332.24 L722.14,334.50 L731.94,336.37 L741.44,337.76" fill="none" stroke="#141414" stroke-width="2" stroke-linejoin="round" stroke-linecap="round" />
<path d="M597.40,337.98 L598.95,337.62 L600.05,337.15 L600.73,336.74 L601.48,336.08 L602.14,335.33 L603.21,333.65 L604.24,331.05 L607.36,321.98 L609.35,315.26 L610.54,310.41 L611.42,305.69 L612.44,298.97 L613.24,292.82 L614.15,284.67 L615.57,270.34 L618.16,241.86 L619.16,229.30 L619.57,225.52 L620.12,222.17 L620.76,220.28 L621.19,219.62 L621.77,219.10 L622.48,218.77 L623.05,218.69 L623.80,218.87 L624.47,219.28 L624.99,219.87 L625.43,220.76 L625.87,222.08 L626.65,225.60 L627.80,229.64 L629.23,234.01 L631.17,239.47 L636.59,253.67 L638.47,258.30 L640.56,262.84 L643.10,267.60 L645.57,271.71 L648.58,276.19 L651.87,280.72 L655.56,285.44 L658.90,289.43 L662.24,293.14 L665.86,296.87 L669.76,300.61 L673.47,303.96 L676.98,306.91 L680.30,309.47 L683.90,312.00 L687.77,314.47 L691.75,316.77 L695.99,319.01 L700.32,321.07 L706.21,323.55 L712.43,325.75 L735.98,332.83 L750.64,337.41" fill="none" stroke="#5f8d5a" stroke-width="2" stroke-linejoin="round" stroke-linecap="round" />

<line x1="554" y1="261.7" x2="756.7" y2="261.7" stroke="#262626" stroke-width="1.3" stroke-dasharray="2.3 2.07"/>
<line x1="554" y1="310.2" x2="756.7" y2="310.2" stroke="#262626" stroke-width="1.3" stroke-dasharray="2.3 2.07"/>
<path d="M579.95,310.20 H586.45 M583.20,306.95 V313.45" stroke="#3a7fd0" stroke-width="2.2"/>
<path d="M613.90,263.50 L619.30,263.50 L616.60,258.70Z" fill="#52d95e"/>
<text x="167.4" y="490.5" font-size="8.6" font-weight="bold" fill="#e91de6" stroke="#e91de6" stroke-width="0.3" textLength="80.8" lengthAdjust="spacingAndGlyphs">Infectious Viral Load</text>
<text x="176" y="505.6" font-size="8.2" font-weight="bold" fill="#151515" stroke="#151515" stroke-width="0.12" textLength="72" lengthAdjust="spacingAndGlyphs">LOD nasal Ag-RDT</text>
<line x1="46.3" y1="449.16999999999996" x2="46.3" y2="574.8" stroke="#151515" stroke-width="2.6"/>
<line x1="45.3" y1="573.8" x2="250" y2="573.8" stroke="#151515" stroke-width="2.5"/>
<line x1="41.3" y1="573.80" x2="46.3" y2="573.80" stroke="#151515" stroke-width="1.2"/>
<text x="38.4" y="577.30" font-size="10" font-weight="bold" fill="#151515" stroke="#151515" stroke-width="0.3" text-anchor="end">0</text>
<line x1="43.0" y1="562.47" x2="46.3" y2="562.47" stroke="#151515" stroke-width="1.2"/>
<line x1="41.3" y1="551.14" x2="46.3" y2="551.14" stroke="#151515" stroke-width="1.2"/>
<text x="38.4" y="554.64" font-size="10" font-weight="bold" fill="#151515" stroke="#151515" stroke-width="0.3" text-anchor="end">2</text>
<line x1="43.0" y1="539.81" x2="46.3" y2="539.81" stroke="#151515" stroke-width="1.2"/>
<line x1="41.3" y1="528.48" x2="46.3" y2="528.48" stroke="#151515" stroke-width="1.2"/>
<text x="38.4" y="531.98" font-size="10" font-weight="bold" fill="#151515" stroke="#151515" stroke-width="0.3" text-anchor="end">4</text>
<line x1="43.0" y1="517.15" x2="46.3" y2="517.15" stroke="#151515" stroke-width="1.2"/>
<line x1="41.3" y1="505.82" x2="46.3" y2="505.82" stroke="#151515" stroke-width="1.2"/>
<text x="38.4" y="509.32" font-size="10" font-weight="bold" fill="#151515" stroke="#151515" stroke-width="0.3" text-anchor="end">6</text>
<line x1="43.0" y1="494.49" x2="46.3" y2="494.49" stroke="#151515" stroke-width="1.2"/>
<line x1="41.3" y1="483.16" x2="46.3" y2="483.16" stroke="#151515" stroke-width="1.2"/>
<text x="38.4" y="486.66" font-size="10" font-weight="bold" fill="#151515" stroke="#151515" stroke-width="0.3" text-anchor="end">8</text>
<line x1="43.0" y1="471.83" x2="46.3" y2="471.83" stroke="#151515" stroke-width="1.2"/>
<line x1="41.3" y1="460.50" x2="46.3" y2="460.50" stroke="#151515" stroke-width="1.2"/>
<text x="38.4" y="464.00" font-size="10" font-weight="bold" fill="#151515" stroke="#151515" stroke-width="0.3" text-anchor="end">10</text>
<line x1="46.50" y1="573.8" x2="46.50" y2="579.8" stroke="#151515" stroke-width="1.2"/>
<line x1="57.85" y1="573.8" x2="57.85" y2="579.8" stroke="#151515" stroke-width="1.2"/>
<line x1="69.20" y1="573.8" x2="69.20" y2="579.8" stroke="#151515" stroke-width="1.2"/>
<line x1="80.55" y1="573.8" x2="80.55" y2="579.8" stroke="#151515" stroke-width="1.2"/>
<line x1="91.90" y1="573.8" x2="91.90" y2="579.8" stroke="#151515" stroke-width="1.2"/>
<line x1="103.25" y1="573.8" x2="103.25" y2="579.8" stroke="#151515" stroke-width="1.2"/>
<line x1="114.60" y1="573.8" x2="114.60" y2="579.8" stroke="#151515" stroke-width="1.2"/>
<line x1="125.95" y1="573.8" x2="125.95" y2="579.8" stroke="#151515" stroke-width="1.2"/>
<line x1="137.30" y1="573.8" x2="137.30" y2="579.8" stroke="#151515" stroke-width="1.2"/>
<line x1="148.65" y1="573.8" x2="148.65" y2="579.8" stroke="#151515" stroke-width="1.2"/>
<line x1="160.00" y1="573.8" x2="160.00" y2="579.8" stroke="#151515" stroke-width="1.2"/>
<line x1="171.35" y1="573.8" x2="171.35" y2="579.8" stroke="#151515" stroke-width="1.2"/>
<line x1="182.70" y1="573.8" x2="182.70" y2="579.8" stroke="#151515" stroke-width="1.2"/>
<line x1="194.05" y1="573.8" x2="194.05" y2="579.8" stroke="#151515" stroke-width="1.2"/>
<line x1="205.40" y1="573.8" x2="205.40" y2="579.8" stroke="#151515" stroke-width="1.2"/>
<line x1="216.75" y1="573.8" x2="216.75" y2="579.8" stroke="#151515" stroke-width="1.2"/>
<line x1="228.10" y1="573.8" x2="228.10" y2="579.8" stroke="#151515" stroke-width="1.2"/>
<line x1="239.45" y1="573.8" x2="239.45" y2="579.8" stroke="#151515" stroke-width="1.2"/>
<text x="16" y="436" font-size="8.8" font-weight="bold" fill="#161616" stroke="#161616" stroke-width="0.3" textLength="30" lengthAdjust="spacingAndGlyphs">Ag-RDT</text>
<text x="11" y="446.7" font-size="8.8" font-weight="bold" fill="#161616" stroke="#161616" stroke-width="0.3" textLength="38.8" lengthAdjust="spacingAndGlyphs">Infectious</text>
<line x1="52.90" y1="434.2" x2="106.50" y2="434.2" stroke="#161616" stroke-width="1.9" stroke-dasharray="4.9 1.94" stroke-dashoffset="0.00"/>
<line x1="134.50" y1="434.2" x2="250.00" y2="434.2" stroke="#161616" stroke-width="1.9" stroke-dasharray="4.9 1.94" stroke-dashoffset="6.36"/>
<path d="M107.45,436.60 L113.15,436.60 L110.30,431.70Z" fill="#52d95e"/>
<path d="M114.35,436.60 L120.05,436.60 L117.20,431.70Z" fill="#52d95e"/>
<path d="M121.25,436.60 L126.95,436.60 L124.10,431.70Z" fill="#52d95e"/>
<path d="M128.15,436.60 L133.85,436.60 L131.00,431.70Z" fill="#52d95e"/>
<rect x="52.40" y="442.10" width="5.3" height="5.3" fill="#8a8a8a"/>
<rect x="59.26" y="442.10" width="5.3" height="5.3" fill="#8a8a8a"/>
<rect x="66.12" y="442.10" width="5.3" height="5.3" fill="#8a8a8a"/>
<rect x="72.98" y="442.10" width="5.3" height="5.3" fill="#8a8a8a"/>
<rect x="79.84" y="442.10" width="5.3" height="5.3" fill="#8a8a8a"/>
<rect x="86.70" y="442.10" width="5.3" height="5.3" fill="#8a8a8a"/>
<rect x="93.56" y="442.10" width="5.3" height="5.3" fill="#8a8a8a"/>
<rect x="100.42" y="442.10" width="5.3" height="5.3" fill="#8a8a8a"/>
<rect x="107.28" y="442.10" width="5.3" height="5.3" fill="#e91de6"/>
<rect x="114.14" y="442.10" width="5.3" height="5.3" fill="#e91de6"/>
<rect x="121.00" y="442.10" width="5.3" height="5.3" fill="#e91de6"/>
<rect x="127.86" y="442.10" width="5.3" height="5.3" fill="#e91de6"/>
<rect x="134.72" y="442.10" width="5.3" height="5.3" fill="#8a8a8a"/>
<rect x="141.58" y="442.10" width="5.3" height="5.3" fill="#8a8a8a"/>
<rect x="148.44" y="442.10" width="5.3" height="5.3" fill="#8a8a8a"/>
<rect x="155.30" y="442.10" width="5.3" height="5.3" fill="#8a8a8a"/>
<rect x="162.16" y="442.10" width="5.3" height="5.3" fill="#8a8a8a"/>
<rect x="169.02" y="442.10" width="5.3" height="5.3" fill="#8a8a8a"/>
<rect x="175.88" y="442.10" width="5.3" height="5.3" fill="#8a8a8a"/>
<rect x="182.74" y="442.10" width="5.3" height="5.3" fill="#8a8a8a"/>
<rect x="189.60" y="442.10" width="5.3" height="5.3" fill="#8a8a8a"/>
<rect x="196.46" y="442.10" width="5.3" height="5.3" fill="#8a8a8a"/>
<rect x="203.32" y="442.10" width="5.3" height="5.3" fill="#8a8a8a"/>
<rect x="210.18" y="442.10" width="5.3" height="5.3" fill="#8a8a8a"/>
<rect x="217.04" y="442.10" width="5.3" height="5.3" fill="#8a8a8a"/>
<rect x="223.90" y="442.10" width="5.3" height="5.3" fill="#8a8a8a"/>
<rect x="230.76" y="442.10" width="5.3" height="5.3" fill="#8a8a8a"/>
<rect x="237.62" y="442.10" width="5.3" height="5.3" fill="#8a8a8a"/>
<rect x="244.48" y="442.10" width="5.3" height="5.3" fill="#8a8a8a"/>
<text x="11.3" y="514.4" font-size="10.4" font-weight="bold" fill="#161616" stroke="#161616" stroke-width="0.3" text-anchor="middle" textLength="48.5" lengthAdjust="spacingAndGlyphs" transform="rotate(-90 11.3 514.4)">Viral Load</text>
<text x="21.5" y="512.5" font-size="9.4" font-weight="bold" fill="#161616" stroke="#161616" stroke-width="0.05" text-anchor="middle" textLength="110" lengthAdjust="spacingAndGlyphs" transform="rotate(-90 21.5 512.5)">(log10 copies/mL sample)</text>
<text x="110.3" y="591.4" font-size="10.6" font-weight="bold" fill="#151515" stroke="#151515" stroke-width="0.4" textLength="24.6" lengthAdjust="spacingAndGlyphs">Time</text>
<text x="137.6" y="591.4" font-size="8.2" font-weight="bold" fill="#151515" stroke="#151515" stroke-width="0.25" textLength="27.3" lengthAdjust="spacingAndGlyphs">(Days)</text>
<path d="M91.19,573.77 L91.96,573.55 L92.67,573.19 L93.50,572.64 L94.22,571.96 L95.58,569.99 L96.75,567.67 L97.91,564.48 L98.88,561.22 L100.40,554.80 L101.61,549.13 L102.69,543.22 L103.74,536.10 L107.71,504.55 L109.00,492.42 L110.84,469.49 L111.67,461.74 L112.22,458.38 L112.87,456.50 L113.29,455.83 L113.71,455.42 L114.39,455.04 L114.95,454.92 L115.70,455.07 L116.51,455.62 L116.99,456.24 L117.40,457.14 L117.82,458.48 L119.04,463.74 L120.52,469.13 L123.06,477.56 L125.00,483.45 L126.81,488.32 L128.64,492.76 L130.74,497.30 L132.95,501.56 L135.55,506.06 L138.56,510.78 L142.64,516.71 L146.89,522.52 L150.20,526.77 L153.30,530.44 L156.41,533.81 L159.82,537.19 L162.77,539.88 L165.82,542.46 L168.97,544.91 L172.07,547.10 L175.42,549.27 L179.04,551.39 L182.57,553.27 L185.99,554.89 L190.60,556.81 L196.06,558.78 L203.86,561.29 L226.60,568.29 L233.15,570.54 L239.71,573.06" fill="none" stroke="#5f8d5a" stroke-width="1.9" stroke-linejoin="round" stroke-linecap="round" />
<line x1="48" y1="497.4" x2="249" y2="497.4" stroke="#262626" stroke-width="1.3" stroke-dasharray="2.3 2.07"/>
<line x1="47" y1="494.5" x2="249" y2="494.5" stroke="#e91de6" stroke-width="3"/>
<circle cx="109.1" cy="494.4" r="3" fill="#e91de6"/>
<path d="M106.20,499.80 L112.20,499.80 L109.20,494.80Z" fill="#52d95e"/>
<rect x="358.2" y="429.2" width="8" height="143.10" fill="#d9d3e3"/>
<rect x="366.2" y="429.2" width="5.6" height="143.10" fill="#a9a0c2"/>
<rect x="393.2" y="429.2" width="21.2" height="143.10" fill="#dcd6e6"/>
<text x="430.4" y="524.5" font-size="8.6" font-weight="bold" fill="#e91de6" stroke="#e91de6" stroke-width="0.3" textLength="81" lengthAdjust="spacingAndGlyphs">Infectious Viral Load</text>
<text x="441" y="496" font-size="8.2" font-weight="bold" fill="#151515" stroke="#151515" stroke-width="0.12" textLength="71" lengthAdjust="spacingAndGlyphs">LOD nasal Ag-RDT</text>
<line x1="308.3" y1="448.87" x2="308.3" y2="574.5" stroke="#151515" stroke-width="2.6"/>
<line x1="307.3" y1="573.5" x2="512" y2="573.5" stroke="#151515" stroke-width="2.5"/>
<line x1="303.3" y1="573.50" x2="308.3" y2="573.50" stroke="#151515" stroke-width="1.2"/>
<text x="300.4" y="577.00" font-size="10" font-weight="bold" fill="#151515" stroke="#151515" stroke-width="0.3" text-anchor="end">0</text>
<line x1="305.0" y1="562.17" x2="308.3" y2="562.17" stroke="#151515" stroke-width="1.2"/>
<line x1="303.3" y1="550.84" x2="308.3" y2="550.84" stroke="#151515" stroke-width="1.2"/>
<text x="300.4" y="554.34" font-size="10" font-weight="bold" fill="#151515" stroke="#151515" stroke-width="0.3" text-anchor="end">2</text>
<line x1="305.0" y1="539.51" x2="308.3" y2="539.51" stroke="#151515" stroke-width="1.2"/>
<line x1="303.3" y1="528.18" x2="308.3" y2="528.18" stroke="#151515" stroke-width="1.2"/>
<text x="300.4" y="531.68" font-size="10" font-weight="bold" fill="#151515" stroke="#151515" stroke-width="0.3" text-anchor="end">4</text>
<line x1="305.0" y1="516.85" x2="308.3" y2="516.85" stroke="#151515" stroke-width="1.2"/>
<line x1="303.3" y1="505.52" x2="308.3" y2="505.52" stroke="#151515" stroke-width="1.2"/>
<text x="300.4" y="509.02" font-size="10" font-weight="bold" fill="#151515" stroke="#151515" stroke-width="0.3" text-anchor="end">6</text>
<line x1="305.0" y1="494.19" x2="308.3" y2="494.19" stroke="#151515" stroke-width="1.2"/>
<line x1="303.3" y1="482.86" x2="308.3" y2="482.86" stroke="#151515" stroke-width="1.2"/>
<text x="300.4" y="486.36" font-size="10" font-weight="bold" fill="#151515" stroke="#151515" stroke-width="0.3" text-anchor="end">8</text>
<line x1="305.0" y1="471.53" x2="308.3" y2="471.53" stroke="#151515" stroke-width="1.2"/>
<line x1="303.3" y1="460.20" x2="308.3" y2="460.20" stroke="#151515" stroke-width="1.2"/>
<text x="300.4" y="463.70" font-size="10" font-weight="bold" fill="#151515" stroke="#151515" stroke-width="0.3" text-anchor="end">10</text>
<line x1="309.70" y1="573.5" x2="309.70" y2="579.5" stroke="#151515" stroke-width="1.2"/>
<line x1="321.05" y1="573.5" x2="321.05" y2="579.5" stroke="#151515" stroke-width="1.2"/>
<line x1="332.40" y1="573.5" x2="332.40" y2="579.5" stroke="#151515" stroke-width="1.2"/>
<line x1="343.75" y1="573.5" x2="343.75" y2="579.5" stroke="#151515" stroke-width="1.2"/>
<line x1="355.10" y1="573.5" x2="355.10" y2="579.5" stroke="#151515" stroke-width="1.2"/>
<line x1="366.45" y1="573.5" x2="366.45" y2="579.5" stroke="#151515" stroke-width="1.2"/>
<line x1="377.80" y1="573.5" x2="377.80" y2="579.5" stroke="#151515" stroke-width="1.2"/>
<line x1="389.15" y1="573.5" x2="389.15" y2="579.5" stroke="#151515" stroke-width="1.2"/>
<line x1="400.50" y1="573.5" x2="400.50" y2="579.5" stroke="#151515" stroke-width="1.2"/>
<line x1="411.85" y1="573.5" x2="411.85" y2="579.5" stroke="#151515" stroke-width="1.2"/>
<line x1="423.20" y1="573.5" x2="423.20" y2="579.5" stroke="#151515" stroke-width="1.2"/>
<line x1="434.55" y1="573.5" x2="434.55" y2="579.5" stroke="#151515" stroke-width="1.2"/>
<line x1="445.90" y1="573.5" x2="445.90" y2="579.5" stroke="#151515" stroke-width="1.2"/>
<line x1="457.25" y1="573.5" x2="457.25" y2="579.5" stroke="#151515" stroke-width="1.2"/>
<line x1="468.60" y1="573.5" x2="468.60" y2="579.5" stroke="#151515" stroke-width="1.2"/>
<line x1="479.95" y1="573.5" x2="479.95" y2="579.5" stroke="#151515" stroke-width="1.2"/>
<line x1="491.30" y1="573.5" x2="491.30" y2="579.5" stroke="#151515" stroke-width="1.2"/>
<line x1="502.65" y1="573.5" x2="502.65" y2="579.5" stroke="#151515" stroke-width="1.2"/>
<path d="M263.7,435.2 H282.9 V431.90000000000003 L295,439.3 L282.9,446.7 V443.40000000000003 H263.7Z" fill="#151515"/>
<line x1="314.30" y1="434" x2="368.80" y2="434" stroke="#161616" stroke-width="1.9" stroke-dasharray="4.9 1.94" stroke-dashoffset="0.00"/>
<line x1="396.00" y1="434" x2="512.00" y2="434" stroke="#161616" stroke-width="1.9" stroke-dasharray="4.9 1.94" stroke-dashoffset="6.46"/>
<path d="M369.25,436.50 L374.95,436.50 L372.10,431.60Z" fill="#52d95e"/>
<path d="M376.10,436.50 L381.80,436.50 L378.95,431.60Z" fill="#52d95e"/>
<path d="M382.95,436.50 L388.65,436.50 L385.80,431.60Z" fill="#52d95e"/>
<path d="M389.80,436.50 L395.50,436.50 L392.65,431.60Z" fill="#52d95e"/>
<rect x="314.30" y="442.20" width="5.3" height="5.3" fill="#8a8a8a"/>
<rect x="321.16" y="442.20" width="5.3" height="5.3" fill="#8a8a8a"/>
<rect x="328.02" y="442.20" width="5.3" height="5.3" fill="#8a8a8a"/>
<rect x="334.88" y="442.20" width="5.3" height="5.3" fill="#8a8a8a"/>
<rect x="341.74" y="442.20" width="5.3" height="5.3" fill="#8a8a8a"/>
<rect x="348.60" y="442.20" width="5.3" height="5.3" fill="#8a8a8a"/>
<rect x="355.46" y="442.20" width="5.3" height="5.3" fill="#eed8ee"/>
<rect x="362.32" y="442.20" width="5.3" height="5.3" fill="#e91de6"/>
<rect x="369.18" y="442.20" width="5.3" height="5.3" fill="#e91de6"/>
<rect x="376.04" y="442.20" width="5.3" height="5.3" fill="#e91de6"/>
<rect x="382.90" y="442.20" width="5.3" height="5.3" fill="#e91de6"/>
<rect x="389.76" y="442.20" width="5.3" height="5.3" fill="#e91de6"/>
<rect x="396.62" y="442.20" width="5.3" height="5.3" fill="#e91de6"/>
<rect x="403.48" y="442.20" width="5.3" height="5.3" fill="#e91de6"/>
<rect x="410.34" y="442.20" width="5.3" height="5.3" fill="#e91de6"/>
<rect x="417.20" y="442.20" width="5.3" height="5.3" fill="#8a8a8a"/>
<rect x="424.06" y="442.20" width="5.3" height="5.3" fill="#8a8a8a"/>
<rect x="430.92" y="442.20" width="5.3" height="5.3" fill="#8a8a8a"/>
<rect x="437.78" y="442.20" width="5.3" height="5.3" fill="#8a8a8a"/>
<rect x="444.64" y="442.20" width="5.3" height="5.3" fill="#8a8a8a"/>
<rect x="451.50" y="442.20" width="5.3" height="5.3" fill="#8a8a8a"/>
<rect x="458.36" y="442.20" width="5.3" height="5.3" fill="#8a8a8a"/>
<rect x="465.22" y="442.20" width="5.3" height="5.3" fill="#8a8a8a"/>
<rect x="472.08" y="442.20" width="5.3" height="5.3" fill="#8a8a8a"/>
<rect x="478.94" y="442.20" width="5.3" height="5.3" fill="#8a8a8a"/>
<rect x="485.80" y="442.20" width="5.3" height="5.3" fill="#8a8a8a"/>
<rect x="492.66" y="442.20" width="5.3" height="5.3" fill="#8a8a8a"/>
<rect x="499.52" y="442.20" width="5.3" height="5.3" fill="#8a8a8a"/>
<rect x="506.38" y="442.20" width="5.3" height="5.3" fill="#8a8a8a"/>
<text x="387.5" y="591.5" font-size="10.6" font-weight="bold" fill="#151515" stroke="#151515" stroke-width="0.4" textLength="24.6" lengthAdjust="spacingAndGlyphs">Time</text>
<text x="414.8" y="591.5" font-size="8.2" font-weight="bold" fill="#151515" stroke="#151515" stroke-width="0.25" textLength="27.3" lengthAdjust="spacingAndGlyphs">(Days)</text>
<path d="M336.19,573.46 L337.30,573.02 L338.45,572.24 L339.34,571.44 L340.18,570.32 L341.17,568.59 L344.37,562.36 L347.63,555.49 L355.62,537.60 L360.80,525.45 L363.69,518.21 L369.65,502.29 L372.38,495.63 L377.84,483.61 L379.65,479.82 L382.57,474.13 L383.97,471.03 L385.84,465.96 L386.89,462.73 L387.98,458.88 L388.75,456.83 L389.42,455.61 L390.32,454.86 L390.87,454.66 L391.43,454.64 L391.99,454.81 L392.64,455.25 L393.32,456.20 L394.04,458.07 L395.32,462.90 L398.27,473.08 L402.99,492.31 L405.11,500.02 L407.68,508.65 L410.11,516.27 L412.39,522.89 L414.55,528.62" fill="none" stroke="#9c9c9c" stroke-width="1.25" stroke-linejoin="round" stroke-linecap="round" />
<path d="M354.69,573.46 L355.26,573.26 L355.92,572.84 L357.19,571.58 L357.99,570.44 L358.80,568.61 L359.94,565.20 L360.57,562.88 L362.87,551.72 L364.23,543.63 L366.50,526.79 L367.37,521.86 L369.71,509.89 L371.08,500.59 L371.78,493.83 L373.35,470.08 L374.33,459.53 L374.80,456.97 L375.15,455.83 L375.47,455.35 L375.90,454.96 L376.42,454.70 L376.80,454.63 L377.54,454.77 L378.34,455.33 L378.92,456.13 L379.50,457.40 L384.07,472.73 L388.77,486.76 L390.48,491.46 L391.97,495.17 L393.21,497.90 L394.92,501.29 L397.17,505.30 L399.70,509.38 L402.71,513.86 L406.11,518.56 L408.93,522.18 L411.65,525.38 L414.50,528.45 L417.50,531.38 L421.36,534.86 L425.35,538.19 L429.46,541.37 L433.69,544.38 L438.20,547.35 L442.64,550.05 L447.18,552.57 L451.99,555.03 L456.69,557.24 L461.64,559.39 L466.84,561.46 L472.47,563.53 L479.85,566.06 L487.65,568.59 L494.88,570.79 L502.55,572.99" fill="none" stroke="#56804f" stroke-width="2.0" stroke-linejoin="round" stroke-linecap="round" />



<line x1="310" y1="497.9" x2="511" y2="497.9" stroke="#262626" stroke-width="1.3" stroke-dasharray="2.3 2.07"/>
<line x1="309" y1="528.5" x2="511" y2="528.5" stroke="#e91de6" stroke-width="3"/>
<circle cx="366.2" cy="528.5" r="3" fill="#e91de6"/>
<path d="M368.40,500.40 L374.40,500.40 L371.40,495.40Z" fill="#52d95e"/>
<text x="0" y="0" font-size="7.8" font-weight="normal" fill="#7e7e7e" stroke="#7e7e7e" stroke-width="0.1" textLength="39" lengthAdjust="spacingAndGlyphs" transform="translate(337.3,570.3) rotate(-65.5)">Gradual Rise</text>
<text x="0" y="0" font-size="7.8" font-weight="normal" fill="#1e1e1e" stroke="#1e1e1e" stroke-width="0.2" textLength="32.5" lengthAdjust="spacingAndGlyphs" transform="translate(356.6,567.8) rotate(-74)">Rapid Rise</text>
<rect x="589.9" y="429.4" width="28.2" height="143.10" fill="#aca2c9"/>
<text x="676" y="490.6" font-size="8.6" font-weight="bold" fill="#e91de6" stroke="#e91de6" stroke-width="0.3" textLength="81" lengthAdjust="spacingAndGlyphs">Infectious Viral Load</text>
<text x="685.6" y="505.2" font-size="8.2" font-weight="bold" fill="#151515" stroke="#151515" stroke-width="0.12" textLength="71.5" lengthAdjust="spacingAndGlyphs">LOD nasal Ag-RDT</text>
<line x1="553.3" y1="449.07000000000005" x2="553.3" y2="574.7" stroke="#151515" stroke-width="2.6"/>
<line x1="552.3" y1="573.7" x2="755.5" y2="573.7" stroke="#151515" stroke-width="2.5"/>
<line x1="548.3" y1="573.70" x2="553.3" y2="573.70" stroke="#151515" stroke-width="1.2"/>
<text x="545.4" y="577.20" font-size="10" font-weight="bold" fill="#151515" stroke="#151515" stroke-width="0.3" text-anchor="end">0</text>
<line x1="550.0" y1="562.37" x2="553.3" y2="562.37" stroke="#151515" stroke-width="1.2"/>
<line x1="548.3" y1="551.04" x2="553.3" y2="551.04" stroke="#151515" stroke-width="1.2"/>
<text x="545.4" y="554.54" font-size="10" font-weight="bold" fill="#151515" stroke="#151515" stroke-width="0.3" text-anchor="end">2</text>
<line x1="550.0" y1="539.71" x2="553.3" y2="539.71" stroke="#151515" stroke-width="1.2"/>
<line x1="548.3" y1="528.38" x2="553.3" y2="528.38" stroke="#151515" stroke-width="1.2"/>
<text x="545.4" y="531.88" font-size="10" font-weight="bold" fill="#151515" stroke="#151515" stroke-width="0.3" text-anchor="end">4</text>
<line x1="550.0" y1="517.05" x2="553.3" y2="517.05" stroke="#151515" stroke-width="1.2"/>
<line x1="548.3" y1="505.72" x2="553.3" y2="505.72" stroke="#151515" stroke-width="1.2"/>
<text x="545.4" y="509.22" font-size="10" font-weight="bold" fill="#151515" stroke="#151515" stroke-width="0.3" text-anchor="end">6</text>
<line x1="550.0" y1="494.39" x2="553.3" y2="494.39" stroke="#151515" stroke-width="1.2"/>
<line x1="548.3" y1="483.06" x2="553.3" y2="483.06" stroke="#151515" stroke-width="1.2"/>
<text x="545.4" y="486.56" font-size="10" font-weight="bold" fill="#151515" stroke="#151515" stroke-width="0.3" text-anchor="end">8</text>
<line x1="550.0" y1="471.73" x2="553.3" y2="471.73" stroke="#151515" stroke-width="1.2"/>
<line x1="548.3" y1="460.40" x2="553.3" y2="460.40" stroke="#151515" stroke-width="1.2"/>
<text x="545.4" y="463.90" font-size="10" font-weight="bold" fill="#151515" stroke="#151515" stroke-width="0.3" text-anchor="end">10</text>
<line x1="554.70" y1="573.7" x2="554.70" y2="579.7" stroke="#151515" stroke-width="1.2"/>
<line x1="566.05" y1="573.7" x2="566.05" y2="579.7" stroke="#151515" stroke-width="1.2"/>
<line x1="577.40" y1="573.7" x2="577.40" y2="579.7" stroke="#151515" stroke-width="1.2"/>
<line x1="588.75" y1="573.7" x2="588.75" y2="579.7" stroke="#151515" stroke-width="1.2"/>
<line x1="600.10" y1="573.7" x2="600.10" y2="579.7" stroke="#151515" stroke-width="1.2"/>
<line x1="611.45" y1="573.7" x2="611.45" y2="579.7" stroke="#151515" stroke-width="1.2"/>
<line x1="622.80" y1="573.7" x2="622.80" y2="579.7" stroke="#151515" stroke-width="1.2"/>
<line x1="634.15" y1="573.7" x2="634.15" y2="579.7" stroke="#151515" stroke-width="1.2"/>
<line x1="645.50" y1="573.7" x2="645.50" y2="579.7" stroke="#151515" stroke-width="1.2"/>
<line x1="656.85" y1="573.7" x2="656.85" y2="579.7" stroke="#151515" stroke-width="1.2"/>
<line x1="668.20" y1="573.7" x2="668.20" y2="579.7" stroke="#151515" stroke-width="1.2"/>
<line x1="679.55" y1="573.7" x2="679.55" y2="579.7" stroke="#151515" stroke-width="1.2"/>
<line x1="690.90" y1="573.7" x2="690.90" y2="579.7" stroke="#151515" stroke-width="1.2"/>
<line x1="702.25" y1="573.7" x2="702.25" y2="579.7" stroke="#151515" stroke-width="1.2"/>
<line x1="713.60" y1="573.7" x2="713.60" y2="579.7" stroke="#151515" stroke-width="1.2"/>
<line x1="724.95" y1="573.7" x2="724.95" y2="579.7" stroke="#151515" stroke-width="1.2"/>
<line x1="736.30" y1="573.7" x2="736.30" y2="579.7" stroke="#151515" stroke-width="1.2"/>
<line x1="747.65" y1="573.7" x2="747.65" y2="579.7" stroke="#151515" stroke-width="1.2"/>
<text x="527.6" y="447.3" font-size="17.5" font-weight="bold" fill="#111" stroke="#111" stroke-width="0.5" textLength="11.6" lengthAdjust="spacingAndGlyphs">&amp;</text>
<line x1="560.80" y1="434.1" x2="614.50" y2="434.1" stroke="#161616" stroke-width="1.9" stroke-dasharray="4.9 1.94" stroke-dashoffset="0.00"/>
<line x1="642.00" y1="434.1" x2="744.70" y2="434.1" stroke="#161616" stroke-width="1.9" stroke-dasharray="4.9 1.94" stroke-dashoffset="5.96"/>
<path d="M615.85,436.60 L621.55,436.60 L618.70,431.70Z" fill="#52d95e"/>
<path d="M622.55,436.60 L628.25,436.60 L625.40,431.70Z" fill="#52d95e"/>
<path d="M629.25,436.60 L634.95,436.60 L632.10,431.70Z" fill="#52d95e"/>
<path d="M635.95,436.60 L641.65,436.60 L638.80,431.70Z" fill="#52d95e"/>
<rect x="560.80" y="442.00" width="5.3" height="5.3" fill="#8a8a8a"/>
<rect x="567.66" y="442.00" width="5.3" height="5.3" fill="#8a8a8a"/>
<rect x="574.52" y="442.00" width="5.3" height="5.3" fill="#8a8a8a"/>
<rect x="581.38" y="442.00" width="5.3" height="5.3" fill="#8a8a8a"/>
<rect x="588.24" y="442.00" width="5.3" height="5.3" fill="#e91de6"/>
<rect x="595.10" y="442.00" width="5.3" height="5.3" fill="#e91de6"/>
<rect x="601.96" y="442.00" width="5.3" height="5.3" fill="#e91de6"/>
<rect x="608.82" y="442.00" width="5.3" height="5.3" fill="#e91de6"/>
<rect x="615.68" y="442.00" width="5.3" height="5.3" fill="#e91de6"/>
<rect x="622.54" y="442.00" width="5.3" height="5.3" fill="#e91de6"/>
<rect x="629.40" y="442.00" width="5.3" height="5.3" fill="#e91de6"/>
<rect x="636.26" y="442.00" width="5.3" height="5.3" fill="#e91de6"/>
<rect x="643.12" y="442.00" width="5.3" height="5.3" fill="#8a8a8a"/>
<rect x="649.98" y="442.00" width="5.3" height="5.3" fill="#8a8a8a"/>
<rect x="656.84" y="442.00" width="5.3" height="5.3" fill="#8a8a8a"/>
<rect x="663.70" y="442.00" width="5.3" height="5.3" fill="#8a8a8a"/>
<rect x="670.56" y="442.00" width="5.3" height="5.3" fill="#8a8a8a"/>
<rect x="677.42" y="442.00" width="5.3" height="5.3" fill="#8a8a8a"/>
<rect x="684.28" y="442.00" width="5.3" height="5.3" fill="#8a8a8a"/>
<rect x="691.14" y="442.00" width="5.3" height="5.3" fill="#8a8a8a"/>
<rect x="698.00" y="442.00" width="5.3" height="5.3" fill="#8a8a8a"/>
<rect x="704.86" y="442.00" width="5.3" height="5.3" fill="#8a8a8a"/>
<rect x="711.72" y="442.00" width="5.3" height="5.3" fill="#8a8a8a"/>
<rect x="718.58" y="442.00" width="5.3" height="5.3" fill="#8a8a8a"/>
<rect x="725.44" y="442.00" width="5.3" height="5.3" fill="#8a8a8a"/>
<rect x="732.30" y="442.00" width="5.3" height="5.3" fill="#8a8a8a"/>
<rect x="739.16" y="442.00" width="5.3" height="5.3" fill="#8a8a8a"/>
<text x="634.2" y="591.3000000000001" font-size="10.6" font-weight="bold" fill="#151515" stroke="#151515" stroke-width="0.4" textLength="24.6" lengthAdjust="spacingAndGlyphs">Time</text>
<text x="661.5" y="591.3000000000001" font-size="8.2" font-weight="bold" fill="#151515" stroke="#151515" stroke-width="0.25" textLength="27.3" lengthAdjust="spacingAndGlyphs">(Days)</text>
<path d="M562.20,573.68 L565.93,572.99 L570.18,571.84 L573.16,570.68 L575.80,569.25 L578.04,567.59 L579.85,565.72 L580.82,564.45 L581.79,562.94 L582.34,561.88 L582.78,560.76 L583.42,558.65 L584.08,555.94 L585.55,548.48 L586.35,542.94 L587.20,535.18 L587.82,528.41 L588.30,521.63 L591.16,473.51 L591.84,466.35 L592.62,460.80 L593.09,459.07 L594.02,457.08 L595.06,455.62 L596.25,454.56 L597.92,453.47 L599.40,452.86 L601.55,452.44 L603.74,452.26 L604.93,452.35 L606.28,452.70 L607.95,453.37 L609.14,454.10 L610.46,455.32 L612.06,457.11 L613.11,458.56 L614.62,460.92 L615.96,463.15 L621.15,472.40 L623.00,475.94 L625.09,480.70 L630.09,493.13 L631.48,496.23 L632.91,499.09 L635.12,503.12 L637.68,507.42 L640.70,512.13 L643.42,516.08 L645.69,519.12 L648.08,522.07 L650.71,525.08 L653.84,528.45 L658.56,533.34 L662.40,537.13 L665.63,540.12 L668.67,542.70 L672.00,545.25 L675.78,547.86 L680.01,550.51 L684.52,553.09 L688.95,555.40 L693.29,557.45 L697.88,559.41 L702.55,561.19 L707.66,562.94 L713.20,564.65 L718.98,566.25 L725.38,567.85 L732.59,569.50 L739.84,571.00 L746.65,572.27 L753.63,573.41" fill="none" stroke="#e68f35" stroke-width="2" stroke-linejoin="round" stroke-linecap="round" />
<path d="M562.20,573.70 L564.78,573.43 L568.10,572.67 L569.98,572.02 L571.74,571.08 L574.01,569.44 L575.92,567.68 L577.41,565.80 L578.96,563.23 L580.02,561.08 L580.85,558.83 L581.81,555.57 L582.82,551.50 L587.12,531.55 L590.38,513.85 L591.51,508.16 L593.67,499.22 L594.38,496.72 L594.96,495.02 L595.96,493.06 L597.50,490.97 L599.07,489.44 L601.19,487.93 L602.76,487.06 L604.26,486.53 L607.02,486.08 L609.41,485.91 L610.60,486.00 L611.75,486.33 L613.75,487.25 L614.96,487.95 L617.12,489.72 L620.51,492.84 L622.35,494.67 L624.57,497.24 L626.03,499.39 L627.57,502.19 L631.55,510.03 L632.83,512.29 L634.22,514.49 L636.13,517.29 L638.37,520.35 L642.77,525.78 L645.84,529.20 L649.03,532.51 L652.48,535.85 L655.88,538.94 L659.09,541.64 L662.24,544.09 L665.50,546.41 L668.84,548.60 L673.13,551.17 L677.85,553.77 L682.49,556.12 L687.38,558.39 L692.54,560.57 L698.50,562.90 L704.89,565.21 L710.59,567.09 L714.80,568.33 L718.87,569.38 L722.97,570.28 L727.29,571.07 L733.02,571.96 L738.56,572.68 L743.77,573.21 L749.07,573.60" fill="none" stroke="#141414" stroke-width="2" stroke-linejoin="round" stroke-linecap="round" />
<path d="M598.00,573.68 L599.55,573.32 L600.65,572.85 L601.33,572.44 L602.08,571.79 L602.74,571.04 L603.81,569.36 L604.78,566.95 L607.92,557.88 L609.92,551.17 L611.12,546.32 L612.01,541.60 L613.00,535.07 L613.81,528.93 L614.73,520.78 L616.18,506.25 L618.77,477.77 L619.75,465.41 L620.16,461.63 L620.72,458.28 L621.37,456.39 L621.79,455.73 L622.38,455.22 L623.09,454.88 L623.66,454.81 L624.41,454.99 L625.08,455.41 L625.60,455.99 L626.03,456.88 L626.47,458.21 L627.25,461.72 L628.41,465.76 L629.84,470.13 L631.80,475.59 L637.24,489.78 L639.13,494.41 L641.24,498.94 L643.79,503.69 L646.28,507.79 L649.29,512.26 L652.60,516.78 L656.18,521.34 L659.52,525.32 L662.87,529.03 L666.50,532.75 L670.40,536.48 L674.11,539.82 L677.64,542.77 L680.97,545.32 L684.57,547.84 L688.27,550.20 L692.25,552.50 L696.50,554.73 L700.83,556.79 L706.72,559.27 L712.93,561.47 L736.69,568.58 L751.20,573.10" fill="none" stroke="#5f8d5a" stroke-width="2" stroke-linejoin="round" stroke-linecap="round" />

<line x1="555" y1="497.4" x2="757" y2="497.4" stroke="#262626" stroke-width="1.3" stroke-dasharray="2.3 2.07"/>
<line x1="554" y1="494.5" x2="760" y2="494.5" stroke="#e91de6" stroke-width="3"/>
<circle cx="589.9" cy="494.5" r="3" fill="#e91de6"/>
<path d="M615.00,499.80 L621.00,499.80 L618.00,494.80Z" fill="#52d95e"/>
</g></svg></body></html>
